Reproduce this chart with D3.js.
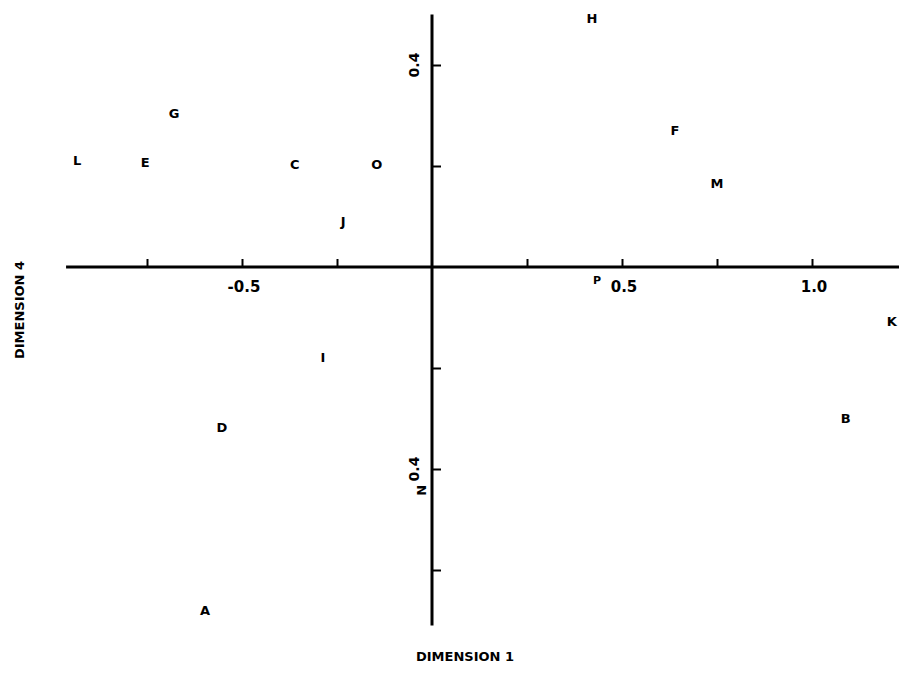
<!DOCTYPE html>
<html lang="en">
<head>
    <meta charset="utf-8">
    <title>Dimension 1 vs Dimension 4</title>
    <script src="https://cdnjs.cloudflare.com/ajax/libs/d3/7.8.5/d3.min.js"></script>
    <style>
        body { margin: 0; background: #fff; }
        svg text { font-family: "DejaVu Sans", sans-serif; font-weight: bold; fill: #000; }
    </style>
</head>
<body>
    <svg id="chart" width="899" height="692"></svg>

    <script>
        // stimulus labels and their coordinates on dimension 1 / dimension 4
        const labels = ['A', 'B', 'C', 'D', 'E', 'F', 'G', 'H', 'I', 'J', 'K', 'L', 'M', 'N', 'O', 'P'];
        const dim1 = [-0.597, 1.089, -0.361, -0.553, -0.755, 0.639, -0.679, 0.421, -0.287, -0.234, 1.210, -0.934, 0.750, -0.029, -0.145, 0.434];
        const dim4 = [-0.680, -0.299, 0.204, -0.317, 0.208, 0.271, 0.305, 0.493, -0.180, 0.091, -0.107, 0.212, 0.166, -0.442, 0.204, -0.026];

        const xTicks = [-0.75, -0.5, -0.25, 0.25, 0.5, 0.75, 1.0];
        const xTickLabels = ['', '-0.5', '', '', '0.5', '', '1.0'];
        const yTicks = [0.4, 0.2, -0.2, -0.4, -0.6];
        const yTickLabels = ['0.4', '', '', '0.4', ''];

        const svg = d3.select('#chart');

        const x = d3.scaleLinear().domain([-1, 1.25]).range([52, 907]);
        const y = d3.scaleLinear().domain([0.6, -0.8]).range([-36, 671]);

        // axes crossing at the origin
        const xAxis = d3.axisTop(x)
            .tickValues(xTicks)
            .tickSize(8)
            .tickFormat('');
        const yAxis = d3.axisRight(y)
            .tickValues(yTicks)
            .tickSize(9)
            .tickFormat('');

        const gx = svg.append('g')
            .attr('transform', `translate(0,${y(0)})`)
            .call(xAxis);
        gx.select('.domain').remove();
        gx.append('line')
            .attr('x1', x(-0.963)).attr('x2', x(1.23))
            .attr('stroke', '#000').attr('stroke-width', 3);
        gx.selectAll('.tick line').attr('stroke-width', 2);

        const gy = svg.append('g')
            .attr('transform', `translate(${x(0)},0)`)
            .call(yAxis);
        gy.select('.domain').remove();
        gy.append('line')
            .attr('y1', y(0.5)).attr('y2', y(-0.71))
            .attr('stroke', '#000').attr('stroke-width', 3);
        gy.selectAll('.tick line').attr('stroke-width', 2);

        // tick labels
        svg.append('g').selectAll('text')
            .data(xTicks.map((v, i) => ({ v, t: xTickLabels[i] })).filter(d => d.t))
            .enter().append('text')
            .attr('x', d => x(d.v) + 2)
            .attr('y', y(0) + 25)
            .attr('text-anchor', 'middle')
            .style('font-size', '15px')
            .text(d => d.t);

        svg.append('g').selectAll('text')
            .data(yTicks.map((v, i) => ({ v, t: yTickLabels[i] })).filter(d => d.t))
            .enter().append('text')
            .attr('transform', d => `translate(${x(0) - 18},${y(d.v)}) rotate(-90)`)
            .attr('text-anchor', 'middle')
            .attr('dy', '0.35em')
            .style('font-size', '14px')
            .text(d => d.t);

        // stimulus letters
        svg.append('g').selectAll('text')
            .data(labels.map((l, i) => ({ l, a: dim1[i], b: dim4[i] })))
            .enter().append('text')
            .attr('transform', d => {
                const r = d.l === 'N' ? ' rotate(-90)' : '';
                return `translate(${x(d.a)},${y(d.b)})${r}`;
            })
            .attr('text-anchor', 'middle')
            .attr('dy', '0.35em')
            .style('font-size', d => d.l === 'P' ? '11px' : '13px')
            .text(d => d.l);

        // axis titles
        svg.append('text')
            .attr('x', 465)
            .attr('y', 661)
            .attr('text-anchor', 'middle')
            .style('font-size', '13px')
            .text('DIMENSION 1');

        svg.append('text')
            .attr('transform', 'translate(19,310) rotate(-90)')
            .attr('text-anchor', 'middle')
            .attr('dy', '0.35em')
            .style('font-size', '13px')
            .text('DIMENSION 4');
    </script>
</body>
</html>
